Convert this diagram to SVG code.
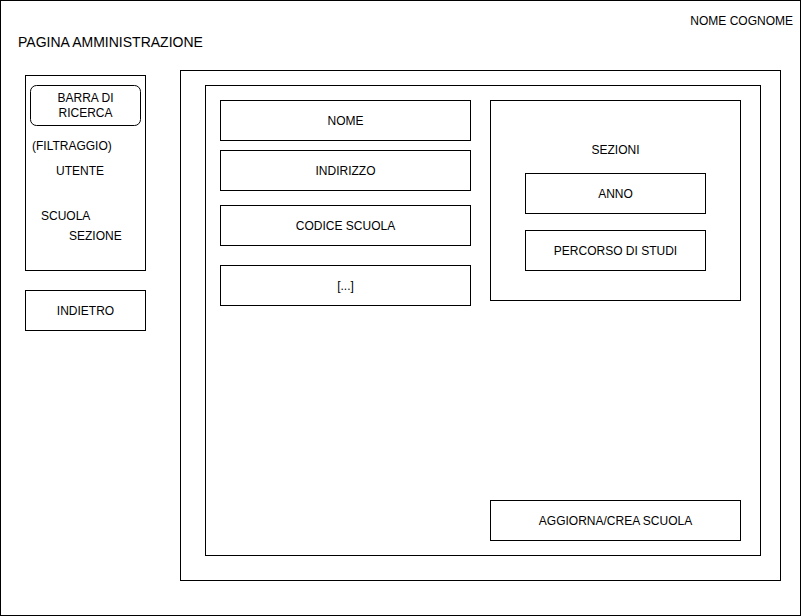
<svg xmlns="http://www.w3.org/2000/svg" width="801" height="616" viewBox="0 0 801 616">
<style>
rect{fill:#fff;stroke:#000;stroke-width:1}
text{font-family:"Liberation Sans",Arial,sans-serif;font-size:12px;fill:#000}
.c{text-anchor:middle}
</style>
<rect x="0.5" y="0.5" width="800" height="615"/>
<g id="title"><text x="18" y="47" style="font-size:14px">PAGINA AMMINISTRAZIONE</text></g>
<g id="user"><text x="793" y="25" text-anchor="end">NOME COGNOME</text></g>
<g id="sidebar">
<rect x="25.5" y="75.5" width="120" height="195"/>
<rect x="30.5" y="85.5" width="110" height="40" rx="6" ry="6"/>
<text class="c" x="85.5" y="102">BARRA DI</text>
<text class="c" x="85.5" y="117">RICERCA</text>
<text x="32" y="150">(FILTRAGGIO)</text>
<text x="56" y="175">UTENTE</text>
<text x="41" y="220">SCUOLA</text>
<text x="69" y="240">SEZIONE</text>
</g>
<g id="indietro"><rect x="25.5" y="290.5" width="120" height="40"/><text class="c" x="85.5" y="315">INDIETRO</text></g>
<g id="main">
<rect x="180.5" y="70.5" width="600" height="510"/>
<rect x="205.5" y="85.5" width="555" height="470"/>
</g>
<g id="nome"><rect x="220.5" y="100.5" width="250" height="40"/><text class="c" x="345.5" y="125">NOME</text></g>
<g id="indirizzo"><rect x="220.5" y="150.5" width="250" height="40"/><text class="c" x="345.5" y="175">INDIRIZZO</text></g>
<g id="codice"><rect x="220.5" y="205.5" width="250" height="40"/><text class="c" x="345.5" y="230">CODICE SCUOLA</text></g>
<g id="altro"><rect x="220.5" y="265.5" width="250" height="40"/><text class="c" x="345.5" y="290">[...]</text></g>
<g id="sezioni"><rect x="490.5" y="100.5" width="250" height="200"/><text class="c" x="615.5" y="154">SEZIONI</text></g>
<g id="anno"><rect x="525.5" y="173.5" width="180" height="40"/><text class="c" x="615.5" y="198">ANNO</text></g>
<g id="percorso"><rect x="525.5" y="230.5" width="180" height="40"/><text class="c" x="615.5" y="255">PERCORSO DI STUDI</text></g>
<g id="aggiorna"><rect x="490.5" y="500.5" width="250" height="40"/><text class="c" x="615.5" y="525">AGGIORNA/CREA SCUOLA</text></g>
<g id="connectors"></g>
</svg>
